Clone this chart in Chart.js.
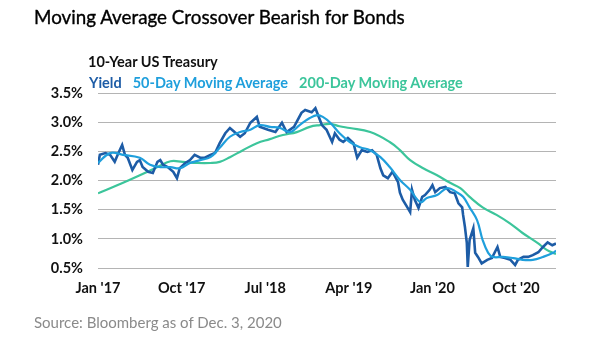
<!DOCTYPE html>
<html>
<head>
<meta charset="utf-8">
<script src="https://cdn.jsdelivr.net/npm/chart.js@4"></script>
<style>
  body { margin: 0; background: #fff; font-family: Lato, sans-serif; }
  #wrap { position: relative; width: 605px; height: 341px; }
  #myChart { position: absolute; left: 0; top: 0; }
  .txt { position: absolute; white-space: nowrap; }
  #title { left: 34px; top: 5px; font-size: 18.8px; color: #000; -webkit-text-stroke: 0.35px #000; }
  #sub { left: 88px; top: 53px; font-size: 14.5px; font-weight: 700; color: #111; }
  #leg { left: 89px; top: 74px; font-size: 14.5px; font-weight: 700; }
  #leg span { margin-right: 11px; }
  #src { left: 34px; top: 313px; font-size: 15px; color: #8a8a8a; }
</style>
</head>
<body>
<div id="wrap">
  <canvas id="myChart" width="605" height="341"></canvas>
  <div class="txt" id="title">Moving Average Crossover Bearish for Bonds</div>
  <div class="txt" id="sub">10-Year US Treasury</div>
  <div class="txt" id="leg"><span style="color:#1d5ca6">Yield</span><span style="color:#1f9fdc">50-Day Moving Average</span><span style="color:#3cc59b">200-Day Moving Average</span></div>
  <div class="txt" id="src">Source: Bloomberg as of Dec. 3, 2020</div>
</div>
<script>
// x positions are months since Jan 2017
var tickMonths = [0, 9, 18, 27, 36, 45];
var tickLabels = ["Jan '17", "Oct '17", "Jul '18", "Apr '19", "Jan '20", "Oct '20"];

var yieldMonths = [0, 0.2, 0.8, 1.3, 1.8, 2.2, 2.6, 2.9, 3.2, 3.7, 4.2, 4.5, 4.8, 5.4, 5.9, 6.4, 6.7, 7.0, 7.5, 8.1,
  8.5, 8.8, 9.4, 9.9, 10.4, 11.0, 11.5, 12.1, 12.6, 13.1, 13.7, 14.2, 14.7, 15.3, 15.8, 16.4, 17.1, 17.4, 18.3, 19.1,
  19.8, 20.3, 21.1, 21.9, 22.3, 23.0, 23.4, 24.1, 24.6, 25.2, 25.5, 26.0, 26.4,
  26.9, 27.5, 27.9, 28.4, 29.0, 29.5, 30.0, 30.4, 30.7, 31.2, 31.7, 32.0, 32.3, 32.5, 32.8, 33.3, 33.6, 33.8, 34.1, 34.5,
  34.9, 35.2, 35.7, 36.0, 36.3, 36.8, 37.4, 37.9, 38.4, 38.8, 39.2, 39.3, 39.5, 39.7, 39.8, 40.0, 40.4, 40.6, 40.9, 41.3,
  41.9, 42.4, 43.0, 43.3, 43.8, 44.4, 44.9, 45.2, 45.8, 46.3, 46.8, 47.4, 47.9, 48.4, 48.9, 49.3];
var yieldValues = [2.27, 2.44, 2.47, 2.44, 2.32, 2.47, 2.61, 2.44, 2.39, 2.18, 2.32, 2.35, 2.23, 2.15, 2.13, 2.32, 2.35, 2.27, 2.23, 2.15,
  2.04, 2.21, 2.30, 2.35, 2.44, 2.39, 2.39, 2.44, 2.47, 2.64, 2.81, 2.90, 2.83, 2.75, 2.81, 2.99, 3.09, 2.92, 2.87, 2.83,
  2.99, 2.83, 2.92, 3.16, 3.21, 3.17, 3.24, 2.95, 2.87, 2.66, 2.81, 2.70, 2.66,
  2.73, 2.64, 2.39, 2.52, 2.49, 2.52, 2.44, 2.21, 2.09, 2.04, 2.15, 2.06, 1.97, 1.79, 1.67, 1.54, 1.46, 1.84, 1.67, 1.53,
  1.72, 1.75, 1.84, 1.92, 1.80, 1.87, 1.89, 1.80, 1.78, 1.61, 1.54, 1.41, 1.20, 0.93, 0.52, 0.98, 1.18, 0.76, 0.69, 0.58,
  0.64, 0.67, 0.86, 0.69, 0.67, 0.64, 0.55, 0.64, 0.69, 0.69, 0.72, 0.77, 0.86, 0.94, 0.89, 0.92];

var ma50Months = [0, 1.3, 2.7, 4.5, 5.6, 6.7, 7.8, 8.8, 9.9, 11.0, 12.1, 13.1, 14.2, 15.3, 16.4, 17.4, 18.5, 19.6, 20.7, 21.7,
  22.8, 23.6, 24.2, 25.0, 26.0, 27.1, 28.2, 29.3, 30.4, 31.4, 32.5, 33.6, 34.7, 35.4, 36.5, 37.6, 38.6, 39.3, 40.0, 40.8,
  41.4, 42.0, 42.5, 43.6, 44.7, 45.7, 46.8, 47.9, 49.0, 49.3];
var ma50Values = [2.30, 2.47, 2.44, 2.39, 2.27, 2.23, 2.23, 2.21, 2.30, 2.35, 2.40, 2.56, 2.75, 2.83, 2.87, 2.95, 2.92, 2.90, 2.83, 2.95,
  3.07, 3.12, 3.09, 2.99, 2.81, 2.66, 2.57, 2.52, 2.40, 2.23, 2.01, 1.84, 1.63, 1.70, 1.75, 1.87, 1.80, 1.72, 1.54, 1.32,
  0.98, 0.76, 0.69, 0.69, 0.67, 0.64, 0.64, 0.69, 0.76, 0.80];

var ma200Months = [0, 2.7, 4.5, 6.4, 7.8, 9.1, 10.7, 12.1, 13.1, 14.2, 15.6, 17.1, 18.5, 19.9, 21.4, 22.8, 23.9, 25.0, 26.0, 27.1,
  29.3, 31.4, 32.5, 33.6, 35.0, 36.5, 37.9, 39.0, 40.0, 41.4, 42.9, 44.3, 45.7, 47.3, 48.3, 49.3];
var ma200Values = [1.78, 1.96, 2.09, 2.23, 2.33, 2.32, 2.30, 2.30, 2.32, 2.40, 2.52, 2.64, 2.71, 2.78, 2.83, 2.92, 2.95, 2.97, 2.93, 2.90,
  2.83, 2.66, 2.52, 2.35, 2.21, 2.09, 1.96, 1.87, 1.72, 1.54, 1.41, 1.27, 1.10, 0.93, 0.81, 0.74];

function pairs(xs, ys) {
  return xs.map(function (x, i) { return { x: x, y: ys[i] }; });
}

var ctx = document.getElementById('myChart').getContext('2d');
new Chart(ctx, {
  type: 'line',
  data: {
    datasets: [{
      label: '200-Day Moving Average',
      data: pairs(ma200Months, ma200Values),
      borderColor: '#3cc59b',
      borderWidth: 2.2,
      tension: 0.4,
      order: 3
    },
    {
      label: 'Yield',
      data: pairs(yieldMonths, yieldValues),
      borderColor: '#1d5ca6',
      borderWidth: 2.6,
      tension: 0,
      order: 2
    },
    {
      label: '50-Day Moving Average',
      data: pairs(ma50Months, ma50Values),
      borderColor: '#1f9fdc',
      borderWidth: 2.2,
      tension: 0.4,
      order: 1
    }]
  },
  options: {
    responsive: false,
    animation: false,
    events: [],
    elements: { point: { radius: 0 } },
    layout: { padding: { left: 0, top: 93, right: 49, bottom: 33 } },
    plugins: { legend: { display: false }, tooltip: { enabled: false } },
    scales: {
      x: {
        type: 'linear',
        min: 0,
        max: 49.3,
        grid: { display: false },
        border: { display: false },
        afterBuildTicks: function (axis) {
          axis.ticks = tickMonths.map(function (m) { return { value: m }; });
        },
        afterFit: function (axis) { axis.height = 40; },
        ticks: {
          autoSkip: false,
          maxRotation: 0,
          padding: 4,
          color: '#111',
          font: { family: 'Lato', size: 14.5, weight: 'bold' },
          callback: function (v) { return tickLabels[tickMonths.indexOf(v)]; }
        }
      },
      y: {
        min: 0.5,
        max: 3.5,
        grid: { color: '#b4b4b4', lineWidth: 1, drawTicks: false },
        border: { display: false },
        afterFit: function (axis) { axis.width = 98; },
        ticks: {
          stepSize: 0.5,
          padding: 15,
          color: '#111',
          font: { family: 'Lato', size: 14.5, weight: 'bold' },
          callback: function (v) { return v.toFixed(1) + '%'; }
        }
      }
    }
  }
});
</script>
</body>
</html>
